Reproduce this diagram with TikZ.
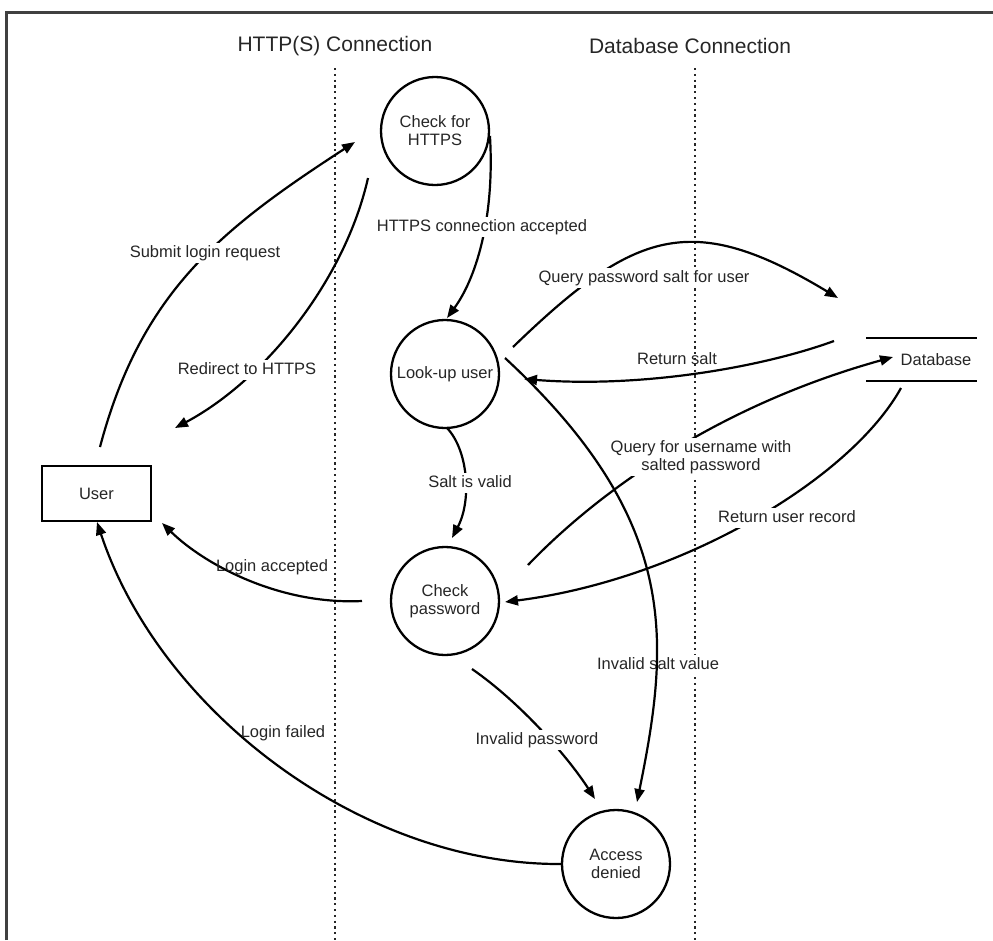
\documentclass[tikz,border=0pt]{standalone}
\usepackage{fontspec}
\setmainfont{Liberation Sans}
\usetikzlibrary{arrows.meta}
\begin{document}
\begin{tikzpicture}[x=1pt,y=-1pt,
  lbl/.style={font=\fontsize{16.5}{18}\selectfont, text=black!85, inner sep=2pt, text height=12pt, text depth=3.5pt},
  lblw/.style={lbl, fill=white},
  lbltwo/.style={font=\fontsize{16.5}{18.5}\selectfont, text=black!85, inner sep=2pt, align=center, fill=white},
  proc/.style={circle, draw, line width=2.3pt, minimum size=108pt, inner sep=0pt, align=center, font=\fontsize{16.5}{18}\selectfont, text=black!85},
  entity/.style={rectangle, draw, line width=2.3pt, minimum width=109pt, minimum height=55pt, inner sep=0pt, font=\fontsize{16.5}{18}\selectfont, text=black!85},
  flow/.style={line width=2.2pt, -{Triangle[length=13pt,width=10pt]}},
  lane/.style={line width=2.4pt, dash pattern=on 2.2pt off 3.6pt, black!85},
  frameline/.style={line width=3pt, black!75},
  storeline/.style={line width=2.3pt},
  title/.style={font=\fontsize{21}{24}\selectfont, text=black!85}
]
\useasboundingbox (0,0) rectangle (993,940);

% frame
\draw[frameline] (6,940) -- (6,12) -- (993,12);

% lane titles and dotted separators
\node[title] (t1) at (335,46) {HTTP(S) Connection};
\node[title] (t2) at (690,46) {Database Connection};
\coordinate (s1top) at (335,68);
\coordinate (s1bot) at (335,940);
\coordinate (s2top) at (695,68);
\coordinate (s2bot) at (695,940);
\draw[lane] (s1top) -- (s1bot);
\draw[lane] (s2top) -- (s2bot);

% nodes
\node[proc] (https) at (435,131) {Check for\\HTTPS};
\node[proc] (lookup) at (445,374) {Look-up user};
\node[proc] (checkpw) at (445,601) {Check\\password};
\node[proc] (denied) at (616,864) {Access\\denied};
\node[entity] (user) at (96.5,493.5) {User};
\node[lbl] (db) at (936,361) {Database};
\draw[storeline] (866,338) -- (977,338);
\draw[storeline] (866,381) -- (977,381);

% free ends
\coordinate (u1) at (100,447);
\coordinate (h1) at (355,142);
\coordinate (h2) at (368,178);
\coordinate (u2) at (175,428);
\coordinate (l1) at (447,318);
\coordinate (l2) at (447,428);
\coordinate (c1) at (452,538);
\coordinate (l3) at (513,347);
\coordinate (d1) at (838,298);
\coordinate (d2) at (834,341);
\coordinate (l4) at (524,379);
\coordinate (l5) at (505,358);
\coordinate (a1) at (637,802);
\coordinate (c2) at (528,565);
\coordinate (d3) at (893,357);
\coordinate (d4) at (901,388);
\coordinate (c3) at (505,602);
\coordinate (c4) at (362,601);
\coordinate (u3) at (162,523);
\coordinate (c5) at (472,669);
\coordinate (a2) at (595,799);
\coordinate (u4) at (97,522);

% connectors
\draw[flow] (u1) .. controls (141,292) and (221,229) .. (h1);
\draw[flow] (h2) .. controls (345,280) and (265,380) .. (u2);
\draw[flow] (https.-5) .. controls (495,220) and (475,280) .. (l1);
\draw[flow] (l2) .. controls (468,450) and (472,500) .. (c1);
\draw[flow] (l3) .. controls (635,229) and (692,210) .. (d1);
\draw[flow] (d2) .. controls (760,368) and (640,388) .. (l4);
\draw[flow] (c2) .. controls (600,490) and (720,405) .. (d3);
\draw[flow] (d4) .. controls (850,480) and (680,580) .. (c3);
\draw[flow] (c4) .. controls (280,605) and (205,565) .. (u3);
\draw[flow] (c5) .. controls (521,703) and (568,757) .. (a2);
\draw[flow] (denied.west) .. controls (362,865) and (160,712) .. (u4);

% labels
\node[lblw] (lsubmit) at (205,253) {Submit login request};
\node[lblw] (lredir) at (247,370) {Redirect to HTTPS};
\node[lblw] (laccept) at (482,227) {HTTPS connection accepted};
\node[lblw] (lsalt) at (470,483) {Salt is valid};
\node[lblw] (lquery) at (644,278) {Query password salt for user};
\node[lbl] (lret) at (677,360) {Return salt};
\node[lbltwo] (lquser) at (701,457) {Query for username with\\salted password};
\node[lblw] (lretuser) at (787,518) {Return user record};
\node[lbl] (lloginok) at (272,567) {Login accepted};
\node[lbl] (lloginfail) at (283,733) {Login failed};
\node[lblw] (linvpw) at (537,740) {Invalid password};
\node[lblw] (linvsalt) at (658,665) {Invalid salt value};

% invalid salt connector drawn over its label
\draw[flow] (l5) .. controls (680,520) and (670,640) .. (a1);
\end{tikzpicture}
\end{document}
